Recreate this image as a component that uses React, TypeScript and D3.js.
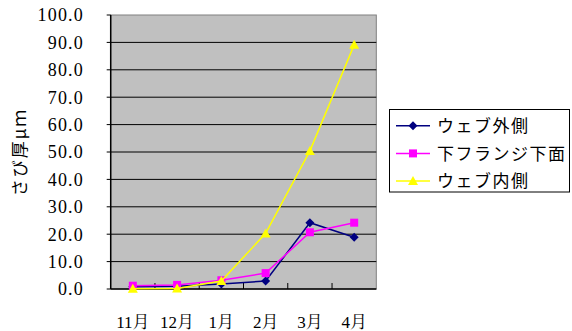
import React from "react";
import * as d3 from "d3";

const categories = ["11月", "12月", "1月", "2月", "3月", "4月"];
const outer = [0.8, 1.0, 1.8, 2.9, 24.2, 18.9];
const flange = [1.2, 1.5, 3.2, 5.8, 20.7, 24.2];
const inner = [0.1, 0.2, 2.9, 20.3, 50.4, 89.1];
const yTicks = [0, 10, 20, 30, 40, 50, 60, 70, 80, 90, 100];
const seriesNames = ["ウェブ外側", "下フランジ下面", "ウェブ内側"];
const yLabel = "さび厚μｍ";

const W = 572, H = 331;
const L = 110.7, R = 376.3, T = 15, B = 289;
const numFont = "Liberation Serif, Noto Serif CJK JP, serif";
const jpFont = "Noto Sans CJK JP, sans-serif";

export default function App() {
  const x = d3.scaleBand<string>().domain(categories).range([L, R]);
  const y = d3.scaleLinear().domain([0, 100]).range([B, T]);
  const cx = (c: string) => (x(c) as number) + x.bandwidth() / 2;
  const line = d3.line<number>().x((_, i) => cx(categories[i])).y((v) => y(v));
  const series = [
    { name: seriesNames[0], data: outer, color: "#000080", shape: "diamond" },
    { name: seriesNames[1], data: flange, color: "#FF00FF", shape: "square" },
    { name: seriesNames[2], data: inner, color: "#FFFF00", shape: "triangle" },
  ];
  const marker = (shape: string, px: number, py: number, color: string, key: string) => {
    if (shape === "diamond")
      return <path key={key} d={`M${px},${py - 4.5}L${px + 4.5},${py}L${px},${py + 4.5}L${px - 4.5},${py}Z`} fill={color} />;
    if (shape === "square")
      return <rect key={key} x={px - 4} y={py - 4} width={8} height={8} fill={color} />;
    return <path key={key} d={`M${px},${py - 5}L${px + 5},${py + 4}L${px - 5},${py + 4}Z`} fill={color} />;
  };
  const legendX = 389.5, legendY = 109.5;
  return (
    <svg width={W} height={H} style={{ position: "absolute", left: 0, top: 0, background: "#fff" }}>
      <rect x={L} y={T} width={R - L} height={B - T} fill="#C0C0C0" stroke="#808080" strokeWidth={1} />
      {yTicks.filter((t) => t > 0 && t < 100).map((t) => (
        <line key={t} x1={L} x2={R} y1={y(t)} y2={y(t)} stroke="#000" strokeWidth={1} />
      ))}
      {yTicks.map((t) => (
        <g key={"yt" + t}>
          <line x1={L - 4} x2={L} y1={y(t)} y2={y(t)} stroke="#000" />
          <text x={84} y={y(t)} dy="0.36em" textAnchor="end" fontFamily={numFont} fontSize={18} letterSpacing={1.2} fill="#000">
            {t.toFixed(1)}
          </text>
        </g>
      ))}
      <line x1={L} x2={L} y1={T} y2={B} stroke="#000" strokeWidth={1.5} />
      <line x1={L} x2={R} y1={B} y2={B} stroke="#000" strokeWidth={1.5} />
      {categories.slice(1).map((c) => (
        <line key={"xt" + c} x1={x(c) as number} x2={x(c) as number} y1={B} y2={B - 6} stroke="#000" />
      ))}
      {categories.map((c) => (
        <text key={"xl" + c} x={cx(c)} y={328} textAnchor="middle" fontFamily={numFont} fontSize={17} fill="#000">
          {c}
        </text>
      ))}
      <text transform={`translate(26,152) rotate(-90)`} textAnchor="middle" fontFamily={jpFont} fontSize={17} letterSpacing={2} fill="#000">
        {yLabel}
      </text>
      {series.map((s) => (
        <g key={s.name}>
          <path d={line(s.data) as string} fill="none" stroke={s.color} strokeWidth={1.5} />
          {s.data.map((v, i) => marker(s.shape, cx(categories[i]), y(v), s.color, s.name + i))}
        </g>
      ))}
      <rect x={legendX} y={legendY} width={180} height={82.5} fill="#fff" stroke="#000" strokeWidth={1} />
      {series.map((s, i) => {
        const ly = 125.7 + i * 27.7;
        return (
          <g key={"lg" + s.name}>
            <line x1={396} x2={430} y1={ly} y2={ly} stroke={s.color} strokeWidth={1.5} />
            {marker(s.shape, 413, ly, s.color, "lm" + i)}
            <text x={437} y={ly} dy="0.36em" fontFamily={jpFont} fontSize={17} fill="#000" letterSpacing={1.5}>
              {s.name}
            </text>
          </g>
        );
      })}
    </svg>
  );
}
